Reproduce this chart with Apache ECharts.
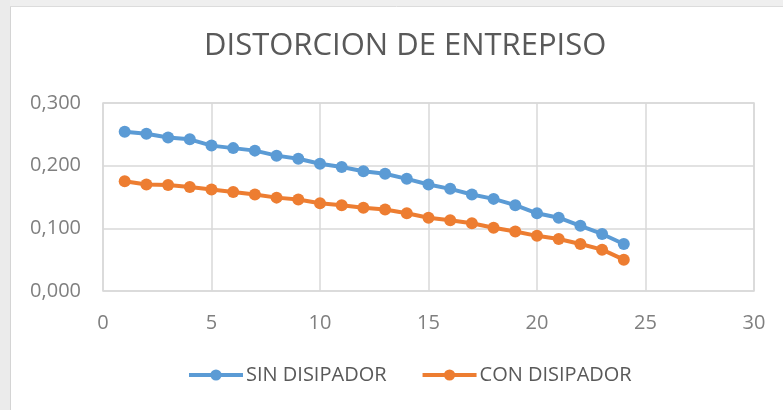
<!DOCTYPE html>
<html>
<head>
<meta charset="utf-8">
<script src="https://cdn.jsdelivr.net/npm/echarts@6/dist/echarts.min.js"></script>
<style>
  html, body { margin: 0; padding: 0; background: #ffffff; }
  #chart { width: 783px; height: 410px; }
</style>
</head>
<body>
<div id="chart"></div>
<script>
// Story number (1 = lowest) and inter-story drift for each configuration
const pisos = [1, 2, 3, 4, 5, 6, 7, 8, 9, 10, 11, 12, 13, 14, 15, 16, 17, 18, 19, 20, 21, 22, 23, 24];
const sinDisipador = [0.254, 0.251, 0.245, 0.242, 0.232, 0.228, 0.224, 0.216, 0.211, 0.203, 0.198, 0.191,
                      0.187, 0.179, 0.170, 0.163, 0.154, 0.147, 0.137, 0.124, 0.117, 0.104, 0.091, 0.075];
const conDisipador = [0.175, 0.170, 0.169, 0.166, 0.162, 0.158, 0.154, 0.149, 0.146, 0.140, 0.137, 0.133,
                      0.130, 0.124, 0.117, 0.113, 0.108, 0.101, 0.095, 0.088, 0.083, 0.075, 0.066, 0.050];
const seriesNames = ['SIN DISIPADOR', 'CON DISIPADOR'];
const titulo = 'DISTORCION DE ENTREPISO';

const pairs = (ys) => pisos.map((x, i) => [x, ys[i]]);

const chart = echarts.init(document.getElementById('chart'), null, { renderer: 'canvas' });
const font = '"Open Sans", "Liberation Sans", sans-serif';

chart.setOption({
  backgroundColor: '#ffffff',
  animation: false,
  graphic: [
    // window frame around the chart sheet
    { type: 'rect', shape: { x: 0, y: 0, width: 783, height: 6 }, style: { fill: '#efefef' }, silent: true },
    { type: 'rect', shape: { x: 0, y: 0, width: 10, height: 410 }, style: { fill: '#ebebeb' }, silent: true },
    { type: 'line', shape: { x1: 10.5, y1: 6, x2: 10.5, y2: 410 }, style: { stroke: '#d4d4d4', lineWidth: 1 }, silent: true },
    { type: 'line', shape: { x1: 10, y1: 6.5, x2: 783, y2: 6.5 }, style: { stroke: '#dcdcdc', lineWidth: 1 }, silent: true }
  ],
  title: {
    text: titulo,
    left: 199,
    top: 26,
    textStyle: { fontFamily: font, fontSize: 31, fontWeight: 'normal', color: '#595959' }
  },
  legend: {
    data: seriesNames,
    bottom: 20,
    left: 182,
    itemWidth: 54,
    itemHeight: 14,
    itemGap: 34,
    lineStyle: { width: 4 },
    textStyle: { fontFamily: font, fontSize: 20, color: '#595959', padding: [0, 0, 0, -2] }
  },
  grid: { left: 103, right: 29, top: 103, bottom: 119, show: true, borderColor: '#d9d9d9', borderWidth: 1.5 },
  xAxis: {
    type: 'value',
    min: 0, max: 30, interval: 5,
    axisLine: { show: false },
    axisTick: { show: false },
    axisLabel: { fontFamily: font, fontSize: 20, color: '#7f7f7f', margin: 22 },
    splitLine: { show: true, lineStyle: { color: '#d9d9d9', width: 1.5 } }
  },
  yAxis: {
    type: 'value',
    min: 0, max: 0.3, interval: 0.1,
    axisLine: { show: false },
    axisTick: { show: false },
    axisLabel: {
      fontFamily: font, fontSize: 20, color: '#7f7f7f', margin: 22,
      formatter: (v) => v.toFixed(3).replace('.', ',')
    },
    splitLine: { show: true, lineStyle: { color: '#d9d9d9', width: 1.5 } }
  },
  series: [
    {
      name: seriesNames[0], type: 'line', data: pairs(sinDisipador),
      symbol: 'circle', symbolSize: 12,
      lineStyle: { width: 4, color: '#5b9bd5' },
      itemStyle: { color: '#5b9bd5' }
    },
    {
      name: seriesNames[1], type: 'line', data: pairs(conDisipador),
      symbol: 'circle', symbolSize: 12,
      lineStyle: { width: 4, color: '#ed7d31' },
      itemStyle: { color: '#ed7d31' }
    }
  ]
});
</script>
</body>
</html>
